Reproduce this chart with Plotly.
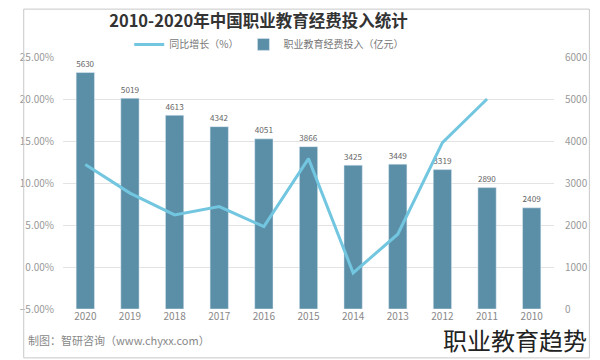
import plotly.graph_objects as go

years = ["2020", "2019", "2018", "2017", "2016", "2015", "2014", "2013", "2012", "2011", "2010"]
funding = [5630, 5019, 4613, 4342, 4051, 3866, 3425, 3449, 3319, 2890, 2409]
growth_years = ["2020", "2019", "2018", "2017", "2016", "2015", "2014", "2013", "2012", "2011"]
growth = [12.2, 8.8, 6.2, 7.2, 4.8, 12.9, -0.7, 3.9, 14.8, 20.0]

font_family = "Noto Sans CJK SC, Noto Sans, sans-serif"

fig = go.Figure()
fig.add_trace(go.Scatter(
    x=growth_years, y=growth, name="同比增长（%）", mode="lines",
    line=dict(color="#72c6e0", width=3), yaxis="y2",
))
fig.add_trace(go.Bar(
    x=years, y=funding, name="职业教育经费投入（亿元）",
    marker=dict(color="#5b8fa8"), text=[str(v) for v in funding],
    textposition="outside", textfont=dict(size=10, color="#666"),
    cliponaxis=False, yaxis="y",
))

fig.update_layout(
    width=592, height=352,
    margin=dict(l=42, r=38, t=49, b=51),
    paper_bgcolor="white", plot_bgcolor="white",
    font=dict(family=font_family, color="#888", size=10),
    title=dict(text="<b>2010-2020年中国职业教育经费投入统计</b>", x=0.423, xanchor="center",
               y=0.962, yanchor="middle", font=dict(size=16.5, color="#333")),
    bargap=0.59,
    showlegend=True,
    legend=dict(orientation="h", x=0.42, xanchor="center", y=1.05, yanchor="middle",
                font=dict(size=10, color="#777"), traceorder="normal", bgcolor="rgba(0,0,0,0)"),
    xaxis=dict(type="category", showgrid=False, showline=False, ticks="",
               tickfont=dict(size=10, color="#888")),
    yaxis=dict(side="right", range=[0, 6000], dtick=1000, showgrid=True,
               gridcolor="#e3e3e3", zeroline=False, tickfont=dict(size=10, color="#999"),
               ticklabelstandoff=10),
    yaxis2=dict(side="left", overlaying="y", range=[-5, 25], dtick=5, tickformat=".2f",
                ticksuffix="%", showgrid=False, zeroline=False,
                tickfont=dict(size=10, color="#999"), ticklabelstandoff=8),
    shapes=[dict(type="rect", xref="paper", yref="paper", x0=-0.08, x1=1.072, y0=-0.194, y1=1.19,
                 line=dict(color="#c8c8c8", width=1))],
    annotations=[
        dict(text="制图：智研咨询（www.chyxx.com）", xref="paper", yref="paper",
             x=-0.076, y=-0.123, xanchor="left", yanchor="middle", showarrow=False,
             font=dict(size=11, color="#888")),
        dict(text="职业教育趋势", xref="paper", yref="paper", x=1.072, y=-0.123,
             xanchor="right", yanchor="middle", showarrow=False,
             font=dict(size=24, color="#222")),
    ],
)

fig.write_html("out.html")
